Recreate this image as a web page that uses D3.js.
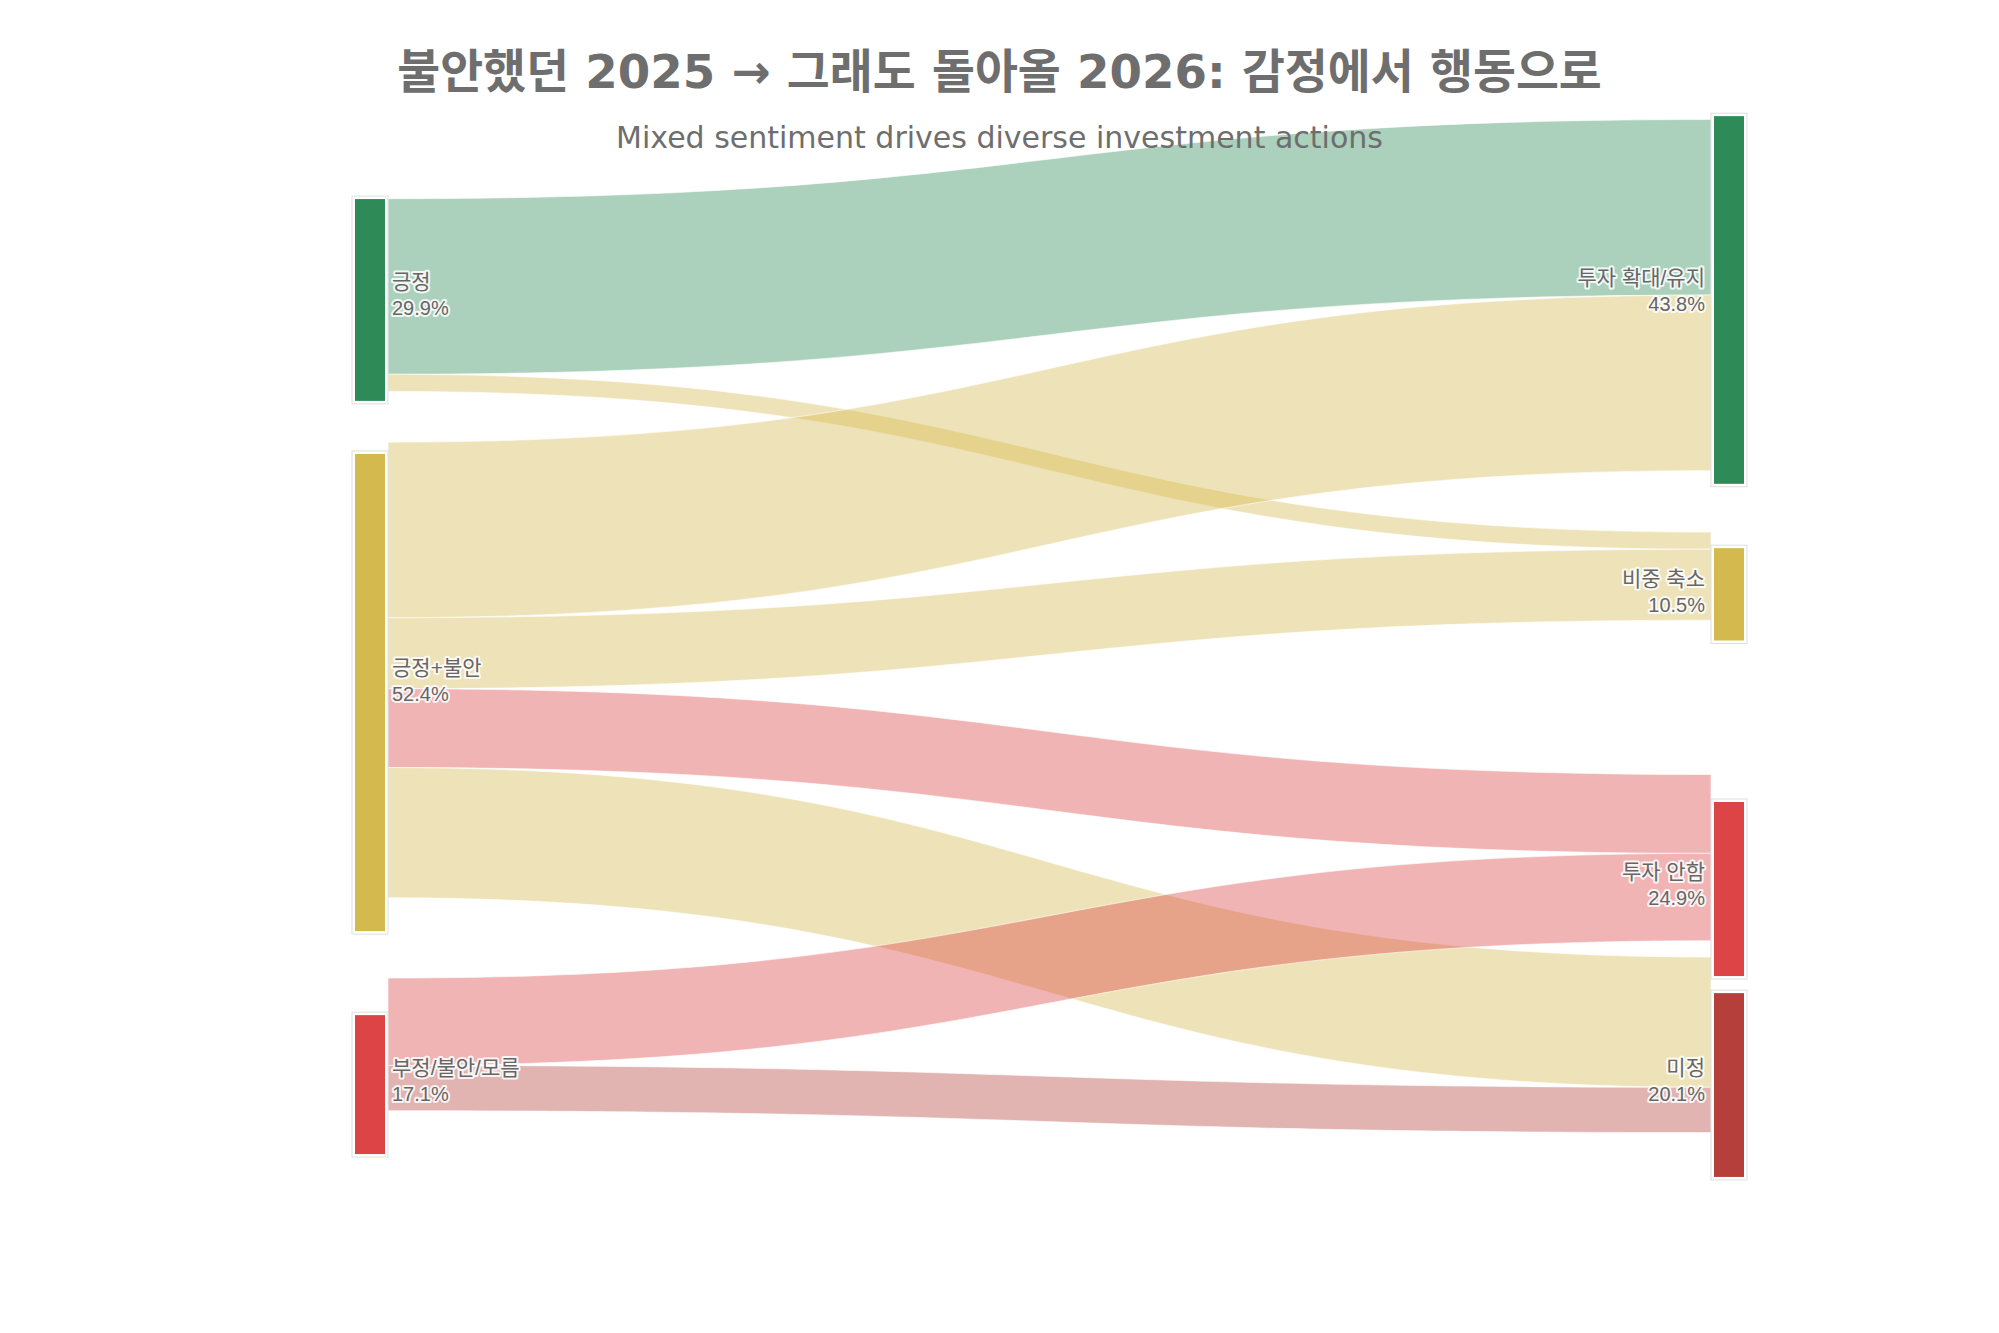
<!DOCTYPE html>
<html>
<head>
<meta charset="utf-8">
<script src="https://cdn.jsdelivr.net/npm/d3@7"></script>
<style>
  html, body { margin: 0; padding: 0; background: #fff; }
  svg { display: block; }
</style>
</head>
<body>
<svg id="chart" width="1999" height="1333"></svg>
<script>
// 2025 sentiment (left) -> 2026 action (right)
const sourceNames = ['긍정', '긍정+불안', '부정/불안/모름'];
const sourcePcts = ['29.9%', '52.4%', '17.1%'];
const targetNames = ['투자 확대/유지', '비중 축소', '투자 안함', '미정'];
const targetPcts = ['43.8%', '10.5%', '24.9%', '20.1%'];

// flows (share of respondents, %)
const linkSource = [0, 0, 1, 1, 1, 1, 2, 2];
const linkTarget = [0, 1, 0, 1, 2, 3, 2, 3];
const linkValue  = [22.5, 2.2, 22.5, 9.1, 10.1, 16.7, 11.2, 5.8];

// node centres as a fraction of the plot height (like plotly node.y)
const sourceY = [0.1765, 0.523, 0.869];
const targetY = [0.1765, 0.4363, 0.6964, 0.8694];

const sourceColors = ['#2e8b57', '#d4b94e', '#dc4446'];
const targetColors = ['#2e8b57', '#d4b94e', '#dc4446', '#b5403b'];
const linkColors = ['#2e8b57', '#d4b94e', '#d4b94e', '#d4b94e', '#dc4446', '#d4b94e', '#dc4446', '#b5403b'];

const W = 1999, H = 1333;
const plot = {left: 355, right: 1744, top: 100, bottom: 1233};
const nodeW = 30;

const svg = d3.select('#chart');

const x = d3.scaleLinear().domain([0, 1]).range([plot.left, plot.right]);
const y = d3.scaleLinear().domain([0, 1]).range([plot.top, plot.bottom]);
const k = d3.scaleLinear().domain([0, 1]).range([0, 8.17]);   // px per %
// the link layer sits a little squeezed toward the top, as in the original
const linkY = d3.scaleLinear().domain([0, H]).range([8.6, 8.6 + 0.955 * H]);

const links = linkValue.map((v, i) => ({
  s: linkSource[i], t: linkTarget[i], value: v, color: linkColors[i]
}));

const makeNodes = (names, pcts, ys, colors, col, key) => names.map((name, i) => {
  const value = d3.sum(links.filter(l => l[key] === i), l => l.value);
  const h = k(value);
  const x0 = col === 0 ? x(0) : x(1) - nodeW;
  return {name, pct: pcts[i], color: colors[i], col, value, h,
          x0, x1: x0 + nodeW, y0: y(ys[i]) - h / 2};
});

const sources = makeNodes(sourceNames, sourcePcts, sourceY, sourceColors, 0, 's');
const targets = makeNodes(targetNames, targetPcts, targetY, targetColors, 1, 't');

// stack links on each side
sources.forEach((n, i) => {
  let off = 0;
  links.filter(l => l.s === i).sort((a, b) => a.t - b.t).forEach(l => {
    l.sy0 = linkY(n.y0 + off); off += k(l.value); l.sy1 = linkY(n.y0 + off);
    l.xs = n.x1 + 3;
  });
});
targets.forEach((n, i) => {
  let off = 0;
  links.filter(l => l.t === i).sort((a, b) => a.s - b.s).forEach(l => {
    l.ty0 = linkY(n.y0 + off); off += k(l.value); l.ty1 = linkY(n.y0 + off);
    l.xt = n.x0 - 3;
  });
});

const bandPath = (l) => {
  const xm = (l.xs + l.xt) / 2;
  const p = d3.path();
  p.moveTo(l.xs, l.sy0);
  p.bezierCurveTo(xm, l.sy0, xm, l.ty0, l.xt, l.ty0);
  p.lineTo(l.xt, l.ty1);
  p.bezierCurveTo(xm, l.ty1, xm, l.sy1, l.xs, l.sy1);
  p.closePath();
  return p.toString();
};

svg.append('g').selectAll('path')
  .data(links)
  .enter().append('path')
    .attr('d', bandPath)
    .attr('fill', d => d.color)
    .attr('fill-opacity', 0.4)
    .attr('stroke', '#fff')
    .attr('stroke-opacity', 0.6)
    .attr('stroke-width', 1);

const allNodes = sources.concat(targets);

const node = svg.append('g').selectAll('g')
  .data(allNodes)
  .enter().append('g');

node.append('rect')
    .attr('x', d => d.x0 - 3)
    .attr('y', d => d.y0 - 3)
    .attr('width', nodeW + 6)
    .attr('height', d => d.h + 6)
    .attr('fill', '#fff')
    .attr('stroke', '#d6d6d6')
    .attr('stroke-width', 0.8);

node.append('rect')
    .attr('x', d => d.x0)
    .attr('y', d => d.y0)
    .attr('width', nodeW)
    .attr('height', d => d.h)
    .attr('fill', d => d.color);

const label = svg.append('g')
    .attr('font-family', '"Liberation Sans", "Noto Sans CJK KR", sans-serif')
    .attr('font-size', 20)
    .attr('fill', '#666')
  .selectAll('text')
  .data(allNodes)
  .enter().append('text')
    .attr('x', d => d.col === 0 ? d.x1 + 7 : d.x0 - 9)
    .attr('text-anchor', d => d.col === 0 ? 'start' : 'end')
    .attr('stroke', '#fff')
    .attr('stroke-width', 4)
    .attr('stroke-opacity', 0.85)
    .attr('stroke-linejoin', 'round')
    .attr('paint-order', 'stroke');

label.append('tspan')
    .attr('x', d => d.col === 0 ? d.x1 + 7 : d.x0 - 9)
    .attr('y', d => d.y0 + 0.475 * d.h - 13.25)
    .attr('dominant-baseline', 'central')
    .attr('font-size', 21)
    .text(d => d.name);
label.append('tspan')
    .attr('x', d => d.col === 0 ? d.x1 + 7 : d.x0 - 9)
    .attr('y', d => d.y0 + 0.475 * d.h + 13.25)
    .attr('dominant-baseline', 'central')
    .text(d => d.pct);

// titles
svg.append('text')
    .attr('x', W / 2)
    .attr('y', 88)
    .attr('text-anchor', 'middle')
    .attr('font-family', '"DejaVu Sans", "Noto Sans CJK KR", sans-serif')
    .attr('font-weight', 700)
    .attr('font-size', 46.7)
    .attr('fill', '#6e6e6e')
    .text('불안했던 2025 → 그래도 돌아올 2026: 감정에서 행동으로');

svg.append('text')
    .attr('x', W / 2)
    .attr('y', 148)
    .attr('text-anchor', 'middle')
    .attr('font-family', '"DejaVu Sans", sans-serif')
    .attr('font-size', 30)
    .attr('fill', '#6e6e6e')
    .text('Mixed sentiment drives diverse investment actions');
</script>
</body>
</html>
